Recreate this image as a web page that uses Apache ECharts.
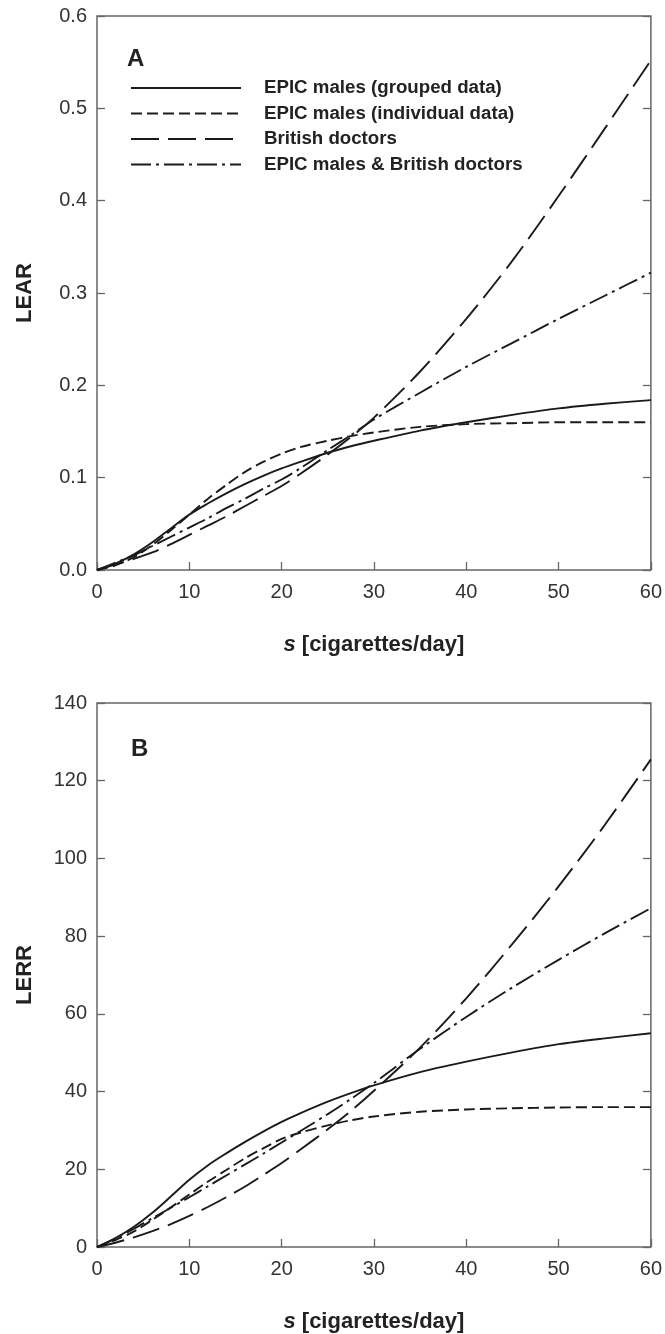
<!DOCTYPE html>
<html><head><meta charset="utf-8">
<script src="https://cdn.jsdelivr.net/npm/echarts@6/dist/echarts.min.js"></script>
<style>html,body{margin:0;padding:0;background:#fff}#c{width:665px;height:1334px}</style>
</head><body><div id="c"></div>
<script>
// x values (cigarettes/day)
const sVals = [0, 2, 4, 6, 8, 10, 12, 14, 16, 18, 20, 22, 25, 27.5, 30, 35, 40, 45, 50, 55, 60];
const seriesNames = ['EPIC males (grouped data)', 'EPIC males (individual data)', 'British doctors', 'EPIC males & British doctors'];
// Panel A: LEAR
const learGrouped    = [0, 0.007, 0.017, 0.030, 0.045, 0.060, 0.072, 0.083, 0.093, 0.102, 0.110, 0.117, 0.127, 0.134, 0.140, 0.151, 0.160, 0.168, 0.175, 0.180, 0.184];
const learIndividual = [0, 0.005, 0.014, 0.027, 0.043, 0.060, 0.077, 0.092, 0.106, 0.117, 0.126, 0.133, 0.140, 0.145, 0.149, 0.155, 0.158, 0.159, 0.160, 0.160, 0.160];
const learBritish    = [0, 0.006, 0.012, 0.019, 0.028, 0.038, 0.048, 0.058, 0.069, 0.080, 0.091, 0.104, 0.125, 0.144, 0.165, 0.215, 0.272, 0.335, 0.405, 0.478, 0.552];
const learCombined   = [0, 0.008, 0.016, 0.026, 0.036, 0.046, 0.056, 0.067, 0.077, 0.088, 0.098, 0.110, 0.130, 0.146, 0.163, 0.192, 0.220, 0.246, 0.272, 0.297, 0.322];
// Panel B: LERR
const lerrGrouped    = [0, 2.3, 5.2, 8.8, 13.0, 17.3, 21.0, 24.1, 27.0, 29.7, 32.2, 34.4, 37.4, 39.6, 41.6, 45.0, 47.7, 50.1, 52.2, 53.7, 55.0];
const lerrIndividual = [0, 1.8, 4.0, 7.0, 10.2, 13.5, 16.8, 19.8, 22.8, 25.4, 27.8, 29.4, 31.3, 32.6, 33.6, 34.8, 35.4, 35.7, 35.9, 36.0, 36.0];
const lerrBritish    = [0, 1.1, 2.5, 4.1, 5.9, 8.0, 10.3, 12.8, 15.5, 18.5, 21.6, 25.0, 30.3, 35.0, 40.2, 51.3, 64.0, 78.0, 92.8, 108.6, 125.5];
const lerrCombined   = [0, 2.2, 4.7, 7.4, 10.1, 12.8, 15.6, 18.4, 21.2, 24.0, 26.9, 29.8, 34.2, 38.1, 42.2, 51.0, 59.2, 66.8, 73.9, 80.7, 87.2];
const xTicks = [0, 10, 20, 30, 40, 50, 60];

const lineColor = '#1a1a1a';
const dashes = ['solid', [11, 5], [28, 9], [20, 5, 3, 5]];
const font = 'Liberation Sans, Arial, Helvetica, sans-serif';

function pairs(ys){ return sVals.map((s,i)=>[s, ys[i]]); }

function mkSeries(arrs, gi){
  return arrs.map((a,k)=>({
    name: seriesNames[k], type:'line', xAxisIndex: gi, yAxisIndex: gi*2,
    data: pairs(a), symbol:'none', smooth:0.3,
    lineStyle:{color:lineColor, width:1.9, type:dashes[k]},
    itemStyle:{color:lineColor}, silent:true, animation:false
  }));
}

function xAx(gi){
  return {type:'value', gridIndex:gi, min:0, max:60, interval:10,
    axisLine:{show:false}, splitLine:{show:false},
    axisTick:{show:true, inside:true, length:8, lineStyle:{color:'#666', width:1.3}},
    axisLabel:{color:'#333', fontSize:20, fontFamily:font, margin:12},
    name:'{i|s} [cigarettes/day]', nameLocation:'middle', nameGap:64,
    nameTextStyle:{color:'#222', fontSize:22, fontWeight:'bold', fontFamily:font,
      rich:{i:{fontStyle:'italic', fontWeight:'bold', fontSize:22, fontFamily:font, color:'#222'}}}
  };
}
function yAx(gi, max, interval, name, fmt){
  return [{type:'value', gridIndex:gi, min:0, max:max, interval:interval,
    axisLine:{show:false}, splitLine:{show:false},
    axisTick:{show:true, inside:true, length:8, lineStyle:{color:'#666', width:1.3}},
    axisLabel:{color:'#333', fontSize:20, fontFamily:font, margin:10, formatter:fmt},
    name:name, nameLocation:'middle', nameGap:61, nameRotate:90,
    nameTextStyle:{color:'#222', fontSize:22, fontWeight:'bold', fontFamily:font}
  },{type:'value', gridIndex:gi, position:'right', min:0, max:max, interval:interval,
    axisLine:{show:false}, splitLine:{show:false}, axisLabel:{show:false},
    axisTick:{show:true, inside:true, length:8, lineStyle:{color:'#666', width:1.3}}
  }];
}

const chart = echarts.init(document.getElementById('c'), null, {renderer:'canvas'});
chart.setOption({
  animation:false,
  backgroundColor:'#fff',
  grid:[
    {left:97, right:13, top:16, height:554, show:true, borderColor:'#666', borderWidth:1.5, backgroundColor:'transparent'},
    {left:97, right:13, top:703, height:546, show:true, borderColor:'#666', borderWidth:1.5, backgroundColor:'transparent'}
  ],
  xAxis:[xAx(0), xAx(1)],
  yAxis:[...yAx(0, 0.6, 0.1, 'LEAR', v=>v.toFixed(1)), ...yAx(1, 140, 20, 'LERR', v=>String(v))],
  legend:{
    data: seriesNames, orient:'vertical', left:125, top:73, itemWidth:110, itemHeight:14, itemGap:5.5,
    selectedMode:false, itemStyle:{opacity:0, borderWidth:0},
    textStyle:{color:'#222', fontSize:18.7, fontWeight:'bold', fontFamily:font, lineHeight:20, padding:[0,0,0,18]}
  },
  graphic:[
    {type:'text', left:127, top:47, style:{text:'A', fontSize:24, fontWeight:'bold', fontFamily:font, fill:'#222'}},
    {type:'text', left:131, top:737, style:{text:'B', fontSize:24, fontWeight:'bold', fontFamily:font, fill:'#222'}}
  ],
  series:[...mkSeries([learGrouped, learIndividual, learBritish, learCombined], 0),
          ...mkSeries([lerrGrouped, lerrIndividual, lerrBritish, lerrCombined], 1)]
});
</script></body></html>
